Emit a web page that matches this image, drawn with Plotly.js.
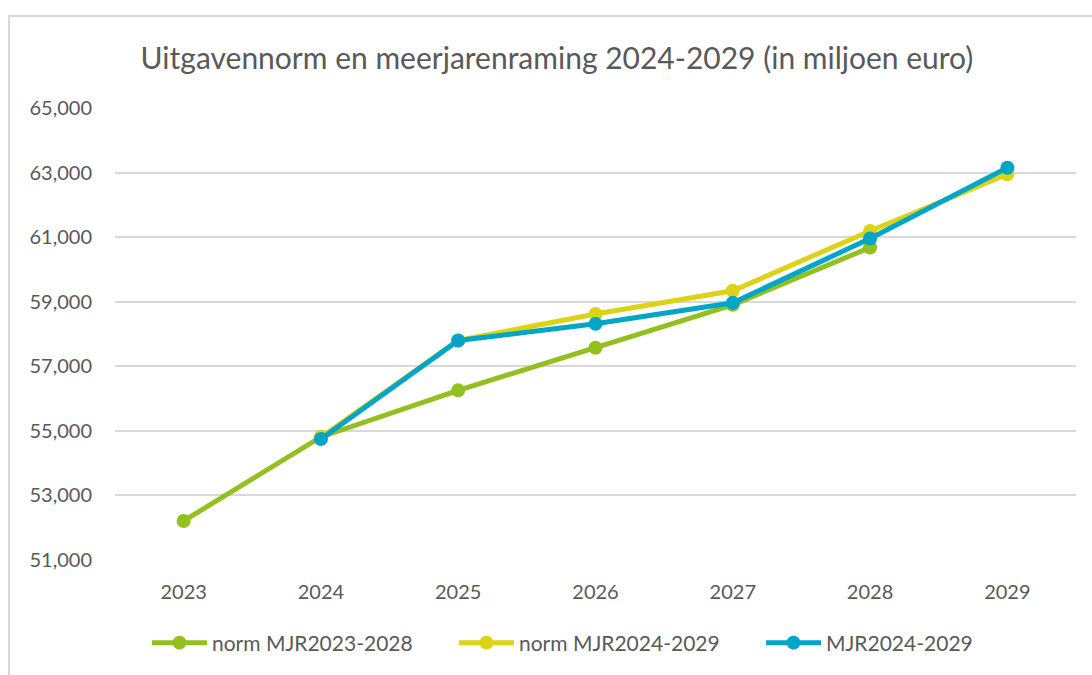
<!DOCTYPE html>
<html>
<head>
<meta charset="utf-8">
<script src="https://cdn.plot.ly/plotly-3.0.1.min.js"></script>
<style>
  html, body { margin: 0; padding: 0; background: #fff; width: 1092px; height: 675px; overflow: hidden; }
  #frame { position: absolute; left: 8px; top: 15px; width: 1100px; height: 700px; border: 2px solid #D9D9D9; box-sizing: border-box; }
  #chart { position: absolute; left: 0; top: 0; width: 1092px; height: 675px; }
</style>
</head>
<body>
<div id="frame"></div>
<div id="chart"></div>
<script>
const years = ['2023', '2024', '2025', '2026', '2027', '2028', '2029'];
const normMJR2023_2028 = [52210, 54810, 56255, 57575, 58905, 60680, null];
const normMJR2024_2029 = [null, 54800, 57800, 58620, 59340, 61190, 62950];
const MJR2024_2029 = [null, 54750, 57800, 58315, 58965, 60960, 63150];
const seriesNames = ['norm MJR2023-2028', 'norm MJR2024-2029', 'MJR2024-2029'];
const colors = ['#93C01F', '#DCD316', '#00A5C8'];

const allSeries = [normMJR2023_2028, normMJR2024_2029, MJR2024_2029];
const traces = allSeries.map((vals, i) => ({
  x: years,
  y: vals,
  name: seriesNames[i],
  type: 'scatter',
  mode: 'lines+markers',
  line: { color: colors[i], width: 5 },
  marker: { color: colors[i], size: 14 },
  connectgaps: false
}));

const font = 'Lato, Open Sans, sans-serif';
const layout = {
  width: 1092,
  height: 675,
  paper_bgcolor: 'rgba(0,0,0,0)',
  plot_bgcolor: 'rgba(0,0,0,0)',
  margin: { l: 115, r: 16, t: 108, b: 115 },
  title: {
    text: 'Uitgavennorm en meerjarenraming 2024-2029 (in miljoen euro)',
    font: { family: font, size: 30, color: '#595959' },
    x: 0.51, xanchor: 'center',
    y: 1 - 58 / 675, yanchor: 'middle'
  },
  xaxis: {
    type: 'category',
    range: [-0.5, 6.5],
    showgrid: false,
    zeroline: false,
    showline: false,
    ticks: '',
    tickfont: { family: font, size: 20, color: '#595959' },
    ticklabelstandoff: 18
  },
  yaxis: {
    range: [51000, 65000],
    tick0: 51000,
    dtick: 2000,
    tickformat: ',d',
    showgrid: true,
    gridcolor: '#D9D9D9',
    gridwidth: 2,
    zeroline: false,
    showline: false,
    ticks: '',
    tickfont: { family: font, size: 20, color: '#595959' },
    ticklabelstandoff: 22
  },
  showlegend: true,
  legend: {
    orientation: 'h',
    xref: 'container',
    yref: 'container',
    x: 0.5563, xanchor: 'center',
    y: 1 - 643 / 675, yanchor: 'middle',
    font: { family: font, size: 21, color: '#595959' },
    itemwidth: 55,
    entrywidth: 237,
    traceorder: 'normal'
  }
};

Plotly.newPlot('chart', traces, layout, { displayModeBar: false, staticPlot: true });
</script>
</body>
</html>
